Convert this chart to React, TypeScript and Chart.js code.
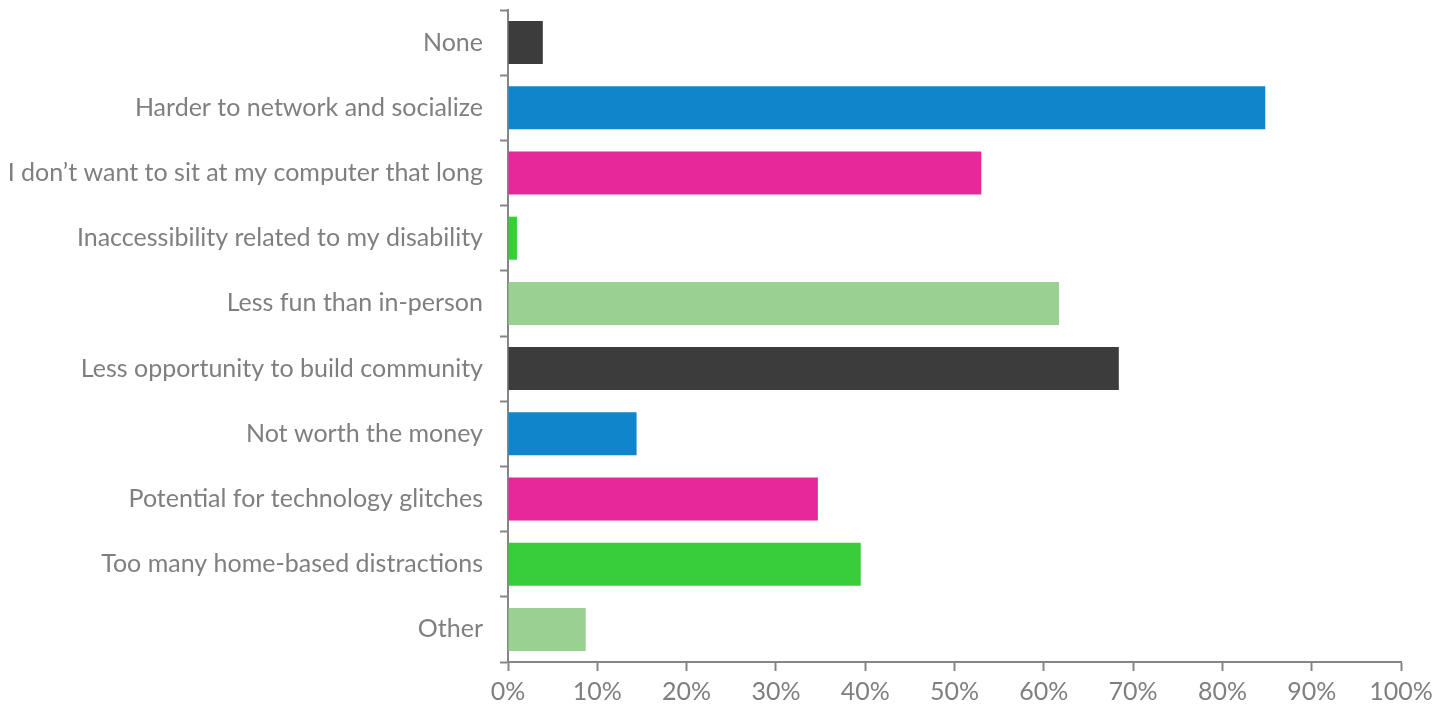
import React, { useEffect, useRef } from "react";
import { Chart, registerables } from "chart.js";

Chart.register(...registerables);

const categories = [
  "None",
  "Harder to network and socialize",
  "I don’t want to sit at my computer that long",
  "Inaccessibility related to my disability",
  "Less fun than in-person",
  "Less opportunity to build community",
  "Not worth the money",
  "Potential for technology glitches",
  "Too many home-based distractions",
  "Other",
];

const values = [3.9, 84.8, 53.0, 1.0, 61.7, 68.4, 14.4, 34.7, 39.5, 8.7];

const barColors = [
  "#3c3c3c",
  "#1085cb",
  "#e6299a",
  "#38cd3a",
  "#99d190",
  "#3c3c3c",
  "#1085cb",
  "#e6299a",
  "#38cd3a",
  "#99d190",
];

const xTicks = [0, 10, 20, 30, 40, 50, 60, 70, 80, 90, 100];

export default function App() {
  const ref = useRef<HTMLCanvasElement | null>(null);

  useEffect(() => {
    if (!ref.current) return;
    const axisColor = "#868686";
    const textColor = "#7f7f7f";
    const chart = new Chart(ref.current, {
      type: "bar",
      data: {
        labels: categories,
        datasets: [
          {
            data: values,
            backgroundColor: barColors,
            borderWidth: 0,
            barPercentage: 0.66,
            categoryPercentage: 1,
          },
        ],
      },
      options: {
        indexAxis: "y",
        animation: false,
        responsive: false,
        maintainAspectRatio: false,
        layout: { padding: { top: 10, right: 32, left: 0, bottom: 0 } },
        plugins: { legend: { display: false }, tooltip: { enabled: false } },
        scales: {
          x: {
            min: 0,
            max: 100,
            afterBuildTicks: (scale: any) => {
              scale.ticks = xTicks.map((v) => ({ value: v }));
            },
            afterFit: (scale: any) => {
              scale.height = 45;
              scale.paddingLeft = 0;
              scale.paddingRight = 0;
            },
            ticks: {
              color: textColor,
              font: { family: "Lato", size: 25 },
              padding: 6,
              maxRotation: 0,
              callback: (v: any) => v + "%",
            },
            grid: {
              display: true,
              drawOnChartArea: false,
              drawTicks: true,
              tickLength: 9,
              tickColor: axisColor,
              tickWidth: 2,
            },
            border: { display: true, color: axisColor, width: 2 },
          },
          y: {
            offset: true,
            afterFit: (scale: any) => {
              scale.width = 508;
              scale.paddingTop = 0;
              scale.paddingBottom = 0;
            },
            ticks: {
              color: textColor,
              font: { family: "Lato", size: 25 },
              padding: 17,
            },
            grid: {
              display: true,
              offset: true,
              drawOnChartArea: false,
              drawTicks: true,
              tickLength: 8,
              tickColor: axisColor,
              tickWidth: 2,
            },
            border: { display: true, color: axisColor, width: 2 },
          },
        },
      },
    });
    return () => chart.destroy();
  }, []);

  return (
    <div style={{ position: "fixed", left: 0, top: 0, width: 1433, height: 707, background: "#fff" }}>
      <canvas ref={ref} width={1433} height={707} style={{ width: 1433, height: 707 }} />
    </div>
  );
}
